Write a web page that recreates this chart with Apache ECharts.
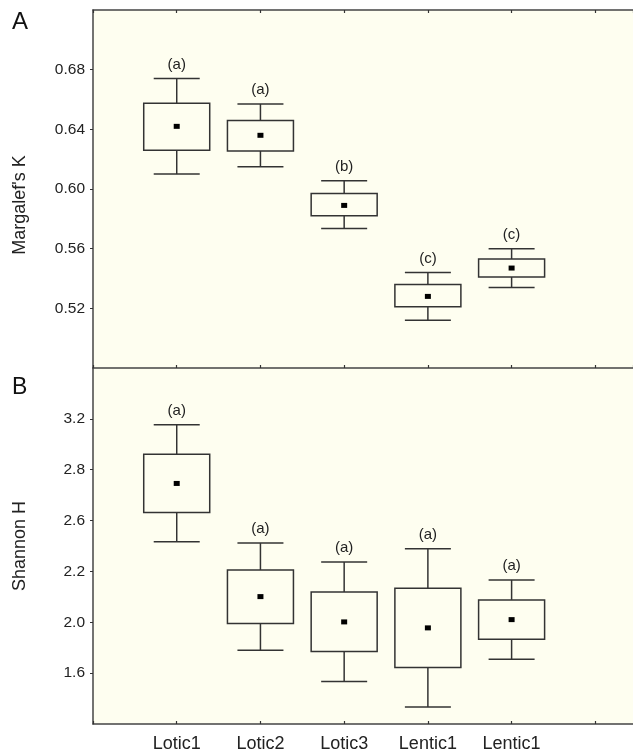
<!DOCTYPE html>
<html>
<head>
<meta charset="utf-8">
<script src="https://cdn.jsdelivr.net/npm/echarts@6/dist/echarts.min.js"></script>
<style>
html,body{margin:0;padding:0;background:#fff;}
#chart{width:633px;height:754px;}
</style>
</head>
<body>
<div id="chart"></div>
<script>
// Categories (x positions 1..5)
var categories = ['Lotic1', 'Lotic2', 'Lotic3', 'Lentic1', 'Lentic1'];

// Panel A: Margalef's K
var kLow   = [0.610, 0.615, 0.5735, 0.512, 0.534];
var kQ1    = [0.626, 0.6255, 0.582, 0.521, 0.541];
var kMean  = [0.642, 0.636, 0.589, 0.528, 0.547];
var kQ3    = [0.6575, 0.646, 0.597, 0.536, 0.553];
var kHigh  = [0.674, 0.657, 0.6055, 0.544, 0.560];
var kGroups = ['(a)', '(a)', '(b)', '(c)', '(c)'];

// Panel B: Shannon H (linear axis positions; tick labels as printed)
var hLow   = [2.634, 1.781, 1.535, 1.333, 1.710];
var hQ1    = [2.864, 1.990, 1.770, 1.645, 1.867];
var hMean  = [3.092, 2.202, 2.003, 1.956, 2.021];
var hQ3    = [3.322, 2.411, 2.238, 2.267, 2.176];
var hHigh  = [3.553, 2.623, 2.474, 2.579, 2.333];
var hGroups = ['(a)', '(a)', '(a)', '(a)', '(a)'];
var hTickLabels = ['1.6', '2.0', '2.2', '2.6', '2.8', '3.2'];

function rows(low, q1, mean, q3, high) {
  return categories.map(function (c, i) {
    return [i + 1, low[i], q1[i], mean[i], q3[i], high[i]];
  });
}

function makeRender(groups) {
  return function (params, api) {
    var x = api.value(0);
    var pLow = api.coord([x, api.value(1)]);
    var pQ1 = api.coord([x, api.value(2)]);
    var pMean = api.coord([x, api.value(3)]);
    var pQ3 = api.coord([x, api.value(4)]);
    var pHigh = api.coord([x, api.value(5)]);
    var cx = pLow[0];
    var bw = 66, cw = 46;
    var ls = {stroke: '#333', lineWidth: 1.5, fill: null};
    return {
      type: 'group',
      children: [
        {type: 'line', shape: {x1: cx, y1: pHigh[1], x2: cx, y2: pQ3[1]}, style: ls},
        {type: 'line', shape: {x1: cx, y1: pQ1[1], x2: cx, y2: pLow[1]}, style: ls},
        {type: 'line', shape: {x1: cx - cw / 2, y1: pHigh[1], x2: cx + cw / 2, y2: pHigh[1]}, style: ls},
        {type: 'line', shape: {x1: cx - cw / 2, y1: pLow[1], x2: cx + cw / 2, y2: pLow[1]}, style: ls},
        {type: 'rect', shape: {x: cx - bw / 2, y: pQ3[1], width: bw, height: pQ1[1] - pQ3[1]},
          style: {stroke: '#333', lineWidth: 1.5, fill: '#FEFEF0'}},
        {type: 'rect', shape: {x: cx - 3, y: pMean[1] - 2.5, width: 6, height: 5},
          style: {fill: '#000', stroke: null}},
        {type: 'text', x: cx, y: pHigh[1] - 14,
          style: {text: groups[params.dataIndex], fill: '#222', fontSize: 15,
            fontFamily: 'Liberation Sans, Arial, sans-serif', align: 'center', verticalAlign: 'middle'}}
      ]
    };
  };
}

var font = 'Liberation Sans, Arial, sans-serif';
var gridCommon = {left: 93, right: 0, show: true, backgroundColor: '#FEFEF0', borderWidth: 0};
var axisLineStyle = {color: '#444', width: 1.5};

function xAxisDef(gridIndex, position, showLabels) {
  return {
    type: 'value', gridIndex: gridIndex, position: position, min: 0, max: 6.45, interval: 1,
    axisLine: {show: true, lineStyle: axisLineStyle}, splitLine: {show: false},
    axisTick: {show: true, inside: true, length: 3, lineStyle: {color: '#333', width: 1.2}},
    axisLabel: {show: showLabels, margin: 11, color: '#222', fontSize: 18, fontFamily: font,
      showMaxLabel: false,
      formatter: function (v) { var i = Math.round(v) - 1; return Math.abs(v - Math.round(v)) < 1e-6 ? (categories[i] || '') : ''; }}
  };
}

var option = {
  animation: false,
  title: [
    {text: 'A', left: 7, top: 5, textStyle: {fontSize: 24, fontWeight: 'normal', color: '#111', fontFamily: font}},
    {text: 'B', left: 7, top: 371, textStyle: {fontSize: 23, fontWeight: 'normal', color: '#111', fontFamily: font}}
  ],
  grid: [
    Object.assign({top: 10, height: 358}, gridCommon),
    Object.assign({top: 368, height: 356}, gridCommon)
  ],
  xAxis: [
    xAxisDef(0, 'bottom', false),
    xAxisDef(0, 'top', false),
    xAxisDef(1, 'bottom', true)
  ],
  yAxis: [
    {
      type: 'value', gridIndex: 0, min: 0.48, max: 0.72, interval: 0.04,
      name: "Margalef's K", nameLocation: 'middle', nameGap: 64,
      nameTextStyle: {fontSize: 18, color: '#222', fontFamily: font, padding: [0, 32, 0, 0]},
      axisLine: {show: true, lineStyle: axisLineStyle}, splitLine: {show: false},
      axisTick: {show: true, length: 3, lineStyle: {color: '#333'}},
      axisLabel: {color: '#222', fontSize: 15.5, fontFamily: font, margin: 8,
        showMinLabel: false, showMaxLabel: false,
        formatter: function (v) { return v.toFixed(2); }}
    },
    {
      type: 'value', gridIndex: 1, min: 1.2, max: 4.0, interval: 0.4,
      name: 'Shannon H', nameLocation: 'middle', nameGap: 64,
      nameTextStyle: {fontSize: 18, color: '#222', fontFamily: font},
      axisLine: {show: true, lineStyle: axisLineStyle}, splitLine: {show: false},
      axisTick: {show: true, length: 3, lineStyle: {color: '#333'}},
      axisLabel: {color: '#222', fontSize: 15.5, fontFamily: font, margin: 8,
        showMinLabel: false, showMaxLabel: false,
        formatter: function (v) {
          var i = Math.round((v - 1.6) / 0.4);
          return hTickLabels[i] || '';
        }}
    }
  ],
  series: [
    {type: 'custom', xAxisIndex: 0, yAxisIndex: 0, renderItem: makeRender(kGroups),
      encode: {x: 0, y: [1, 2, 3, 4, 5]}, data: rows(kLow, kQ1, kMean, kQ3, kHigh), clip: false},
    {type: 'custom', xAxisIndex: 2, yAxisIndex: 1, renderItem: makeRender(hGroups),
      encode: {x: 0, y: [1, 2, 3, 4, 5]}, data: rows(hLow, hQ1, hMean, hQ3, hHigh), clip: false}
  ]
};

var chart = echarts.init(document.getElementById('chart'), null, {renderer: 'canvas'});
chart.setOption(option);
</script>
</body>
</html>
